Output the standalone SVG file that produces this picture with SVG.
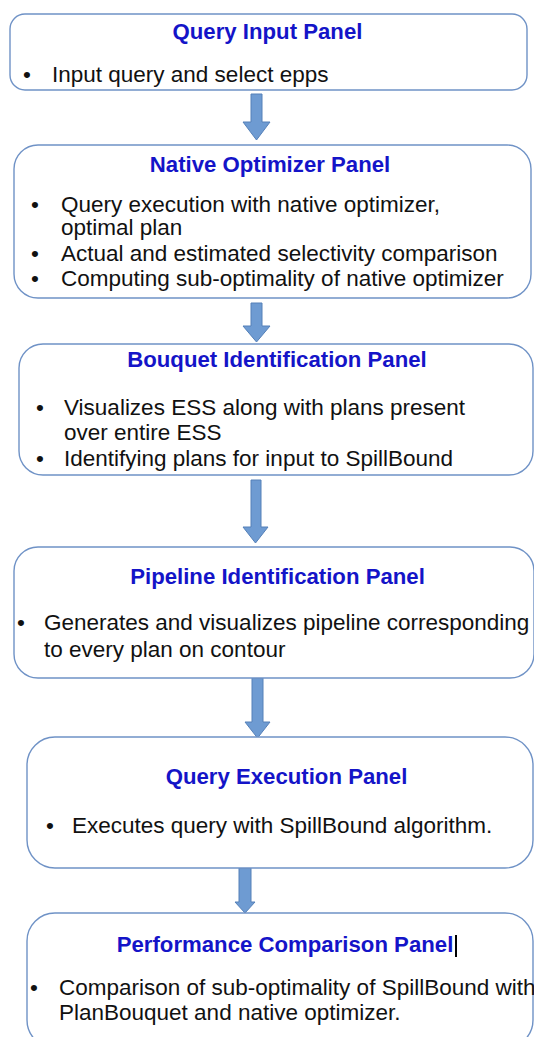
<svg xmlns="http://www.w3.org/2000/svg" width="534" height="1037" viewBox="0 0 534 1037">
  <style>
    .panel { fill: #ffffff; stroke: #6f92c6; stroke-width: 1.4; }
    .title { font-family: "Liberation Sans", Arial, sans-serif; font-weight: bold; font-size: 22.2px; fill: #1414c8; text-anchor: middle; }
    .body { font-family: "Liberation Sans", Arial, sans-serif; font-size: 22.5px; fill: #111111; }
    .arrow { fill: #6e9bd2; stroke: #5580b8; stroke-width: 1; }
  </style>
  <rect width="534" height="1037" fill="#ffffff"/>

  <!-- flow arrows between panels -->
  <g id="connectors">
    <polygon class="arrow" points="251,94 262,94 262,122 270,122 256.5,140 243,122 251,122"/>
    <polygon class="arrow" points="251,303 262,303 262,326 270,326 256.5,342 243,326 251,326"/>
    <polygon class="arrow" points="251,480 261,480 261,527 268,527 255.5,543 243,527 251,527"/>
    <polygon class="arrow" points="252,678 263,678 263,722 270,722 257.5,738 245,722 252,722"/>
    <polygon class="arrow" points="239,868 251,868 251,902 255,902 245,913 235,902 239,902"/>
  </g>

  <g id="query-input-panel">
    <rect class="panel" x="10" y="14" width="517" height="76" rx="15" ry="15"/>
    <text class="title" x="267.5" y="39">Query Input Panel</text>
    <text class="body" x="23" y="82">•</text>
    <text class="body" x="52" y="82">Input query and select epps</text>
  </g>

  <g id="native-optimizer-panel">
    <rect class="panel" x="14" y="145" width="517" height="153" rx="24" ry="24"/>
    <text class="title" x="270" y="172">Native Optimizer Panel</text>
    <text class="body" x="31" y="212">•</text>
    <text class="body" x="61" y="212">Query execution with native optimizer,</text>
    <text class="body" x="61" y="235">optimal plan</text>
    <text class="body" x="31" y="261">•</text>
    <text class="body" x="61" y="261">Actual and estimated selectivity comparison</text>
    <text class="body" x="31" y="286">•</text>
    <text class="body" x="61" y="286">Computing sub-optimality of native optimizer</text>
  </g>

  <g id="bouquet-identification-panel">
    <rect class="panel" x="19" y="344" width="514" height="131" rx="24" ry="24"/>
    <text class="title" x="277" y="367">Bouquet Identification Panel</text>
    <text class="body" x="36" y="415">•</text>
    <text class="body" x="64" y="415">Visualizes ESS along with plans present</text>
    <text class="body" x="64" y="440">over entire ESS</text>
    <text class="body" x="36" y="466">•</text>
    <text class="body" x="64" y="466">Identifying plans for input to SpillBound</text>
  </g>

  <g id="pipeline-identification-panel">
    <rect class="panel" x="14" y="547" width="520" height="131" rx="24" ry="24"/>
    <text class="title" x="277.5" y="584">Pipeline Identification Panel</text>
    <text class="body" x="17" y="630">•</text>
    <text class="body" x="44" y="630">Generates and visualizes pipeline corresponding</text>
    <text class="body" x="44" y="657">to every plan on contour</text>
  </g>

  <g id="query-execution-panel">
    <rect class="panel" x="27" y="737" width="506" height="131" rx="28" ry="28"/>
    <text class="title" x="286.5" y="784">Query Execution Panel</text>
    <text class="body" x="46" y="833">•</text>
    <text class="body" x="72" y="833">Executes query with SpillBound algorithm.</text>
  </g>

  <g id="performance-comparison-panel">
    <rect class="panel" x="27" y="913" width="506" height="135" rx="28" ry="28"/>
    <text class="title" x="285" y="952">Performance Comparison Panel</text>
    <line x1="456" y1="935" x2="456" y2="957" stroke="#000000" stroke-width="2"/>
    <text class="body" x="30" y="995">•</text>
    <text class="body" x="59" y="995">Comparison of sub-optimality of SpillBound with</text>
    <text class="body" x="59" y="1020">PlanBouquet and native optimizer.</text>
  </g>
</svg>
